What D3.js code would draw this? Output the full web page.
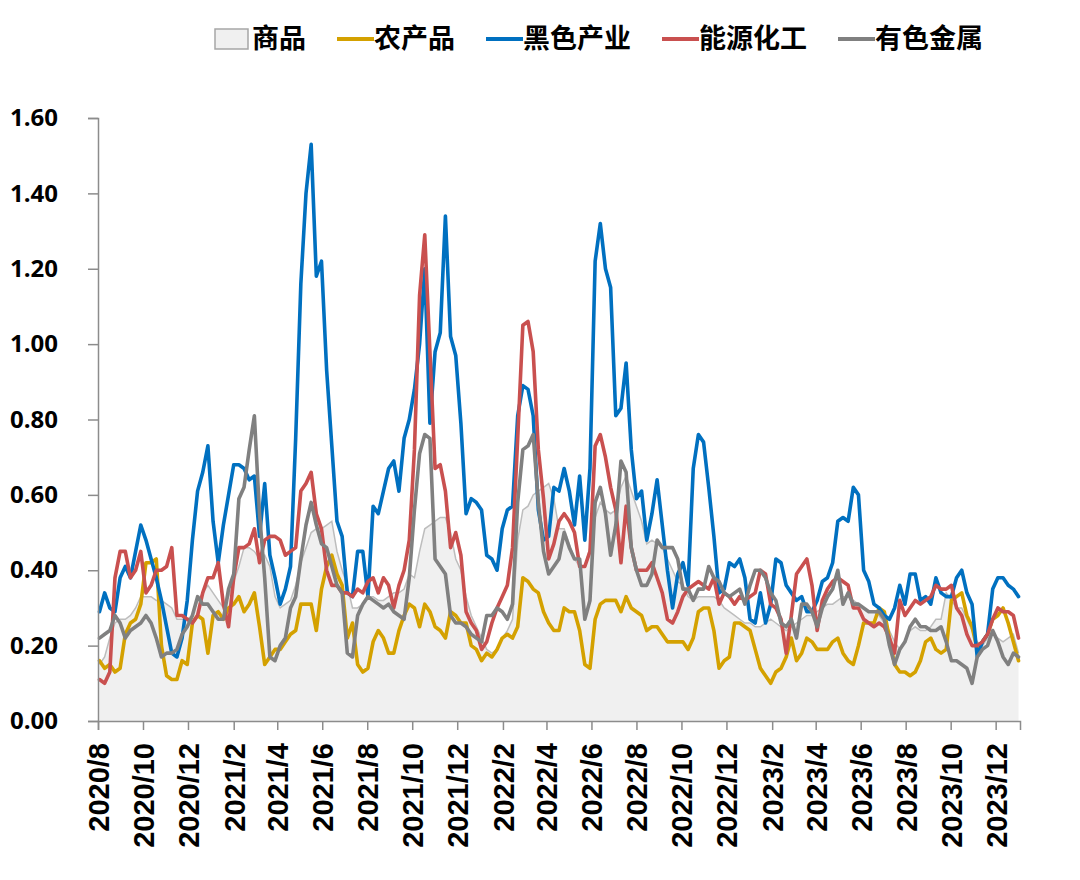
<!DOCTYPE html>
<html>
<head>
<meta charset="utf-8">
<script src="https://cdn.jsdelivr.net/npm/d3@7"></script>
<style>
  html, body { margin: 0; padding: 0; background: #ffffff; }
  svg { display: block; }
</style>
</head>
<body>
<svg id="chart" width="1080" height="880"></svg>
<script>
// ---------------- DATA ----------------
const seriesNames = ["商品", "农产品", "黑色产业", "能源化工", "有色金属"];
const tickLabels = ["2020/8","2020/10","2020/12","2021/2","2021/4","2021/6","2021/8","2021/10","2021/12",
  "2022/2","2022/4","2022/6","2022/8","2022/10","2022/12","2023/2","2023/4","2023/6","2023/8","2023/10","2023/12"];
const yTickValues = [0, 0.2, 0.4, 0.6, 0.8, 1.0, 1.2, 1.4, 1.6];
const firstWeek = "2020-08-03";   // weekly observations start here
const axisStart = "2020-08-01";
const axisEnd = "2024-01-03";

// 商品 (area)
const commodity = [
  0.15,0.17,0.22,0.26,0.27,0.27,0.28,0.30,0.33,0.33,0.33,0.32,0.32,0.31,0.30,0.27,0.27,0.27,0.28,0.32,0.34,0.36,0.34,
  0.32,0.30,0.33,0.37,0.41,0.46,0.46,0.45,0.43,0.44,0.41,0.33,0.30,0.31,0.32,0.36,0.42,0.46,0.50,0.51,0.51,0.52,
  0.53,0.45,0.40,0.36,0.30,0.30,0.31,0.33,0.33,0.32,0.32,0.33,0.34,0.34,0.35,0.39,0.38,0.45,0.51,0.52,0.53,0.54,0.54,
  0.50,0.43,0.40,0.33,0.28,0.25,0.22,0.19,0.18,0.19,0.22,0.24,0.27,0.48,0.56,0.57,0.60,0.61,0.62,0.63,0.59,0.51,
  0.51,0.47,0.43,0.41,0.41,0.46,0.54,0.58,0.56,0.55,0.56,0.62,0.65,0.61,0.57,0.53,0.47,0.48,0.47,0.46,0.43,0.40,
  0.37,0.36,0.33,0.32,0.33,0.33,0.33,0.33,0.32,0.30,0.29,0.28,0.27,0.26,0.26,0.25,0.25,0.26,0.27,0.26,0.25,0.24,
  0.25,0.26,0.27,0.28,0.28,0.29,0.30,0.31,0.31,0.32,0.33,0.33,0.32,0.31,0.30,0.29,0.29,0.28,0.26,0.24,0.21,0.19,0.21,
  0.24,0.25,0.24,0.24,0.25,0.27,0.27,0.34,0.32,0.30,0.30,0.27,0.24,0.21,0.20,0.22,0.23,0.22,0.21,0.22,0.23,0.18
];
// 农产品
const agri = [
  0.16,0.14,0.15,0.13,0.14,0.23,0.26,0.27,0.31,0.42,0.42,0.43,0.20,0.12,0.11,0.11,0.16,0.15,0.26,0.28,0.27,0.18,0.28,
  0.29,0.27,0.30,0.31,0.33,0.29,0.31,0.34,0.25,0.15,0.17,0.19,0.19,0.21,0.23,0.24,0.31,0.31,0.31,0.24,0.35,0.41,
  0.44,0.39,0.36,0.22,0.26,0.15,0.13,0.14,0.21,0.24,0.22,0.18,0.18,0.24,0.28,0.31,0.30,0.25,0.31,0.29,0.25,0.24,0.22,
  0.29,0.28,0.26,0.26,0.20,0.19,0.16,0.18,0.17,0.19,0.22,0.23,0.22,0.25,0.38,0.37,0.35,0.34,0.29,0.26,0.24,0.24,
  0.30,0.29,0.29,0.24,0.15,0.14,0.27,0.31,0.32,0.32,0.32,0.29,0.33,0.30,0.29,0.28,0.24,0.25,0.25,0.23,0.21,0.21,
  0.21,0.21,0.19,0.22,0.29,0.30,0.30,0.24,0.14,0.16,0.17,0.26,0.26,0.25,0.24,0.19,0.14,0.12,0.10,0.13,0.14,0.17,
  0.22,0.16,0.18,0.22,0.21,0.19,0.19,0.19,0.21,0.22,0.18,0.16,0.15,0.20,0.26,0.26,0.26,0.30,0.29,0.22,0.15,0.13,0.13,
  0.12,0.13,0.16,0.21,0.22,0.19,0.18,0.19,0.32,0.33,0.34,0.28,0.25,0.19,0.21,0.23,0.27,0.28,0.30,0.26,0.21,0.16
];
// 黑色产业
const ferrous = [
  0.29,0.34,0.30,0.29,0.38,0.41,0.38,0.45,0.52,0.48,0.43,0.38,0.32,0.25,0.18,0.17,0.22,0.32,0.48,0.61,0.66,0.73,0.53,
  0.42,0.52,0.60,0.68,0.68,0.67,0.64,0.65,0.49,0.63,0.44,0.38,0.31,0.35,0.41,0.75,1.16,1.40,1.53,1.18,1.22,0.93,
  0.73,0.53,0.49,0.34,0.33,0.45,0.45,0.33,0.57,0.55,0.61,0.67,0.69,0.61,0.75,0.80,0.88,1.00,1.20,0.79,0.98,1.03,1.34,
  1.02,0.97,0.79,0.55,0.59,0.58,0.56,0.44,0.43,0.40,0.51,0.56,0.57,0.81,0.89,0.88,0.81,0.56,0.48,0.49,0.62,0.61,
  0.67,0.61,0.52,0.65,0.48,0.67,1.22,1.32,1.20,1.15,0.81,0.83,0.95,0.72,0.59,0.61,0.48,0.55,0.64,0.52,0.40,0.30,
  0.39,0.42,0.36,0.67,0.76,0.74,0.62,0.49,0.34,0.35,0.42,0.41,0.43,0.38,0.27,0.26,0.34,0.26,0.31,0.43,0.42,0.36,
  0.34,0.32,0.33,0.29,0.29,0.32,0.37,0.38,0.42,0.53,0.54,0.53,0.62,0.60,0.40,0.37,0.31,0.30,0.28,0.27,0.30,0.36,0.31,
  0.39,0.39,0.32,0.33,0.31,0.38,0.34,0.33,0.33,0.38,0.40,0.34,0.31,0.17,0.21,0.23,0.35,0.38,0.38,0.36,0.35,0.33
];
// 能源化工
const energy = [
  0.11,0.10,0.13,0.38,0.45,0.45,0.38,0.40,0.45,0.34,0.36,0.40,0.40,0.41,0.46,0.28,0.28,0.27,0.26,0.28,0.34,0.38,0.38,
  0.42,0.31,0.25,0.38,0.46,0.46,0.47,0.51,0.42,0.48,0.49,0.49,0.48,0.44,0.45,0.46,0.61,0.63,0.66,0.55,0.51,0.40,
  0.36,0.36,0.34,0.34,0.33,0.35,0.34,0.37,0.38,0.34,0.38,0.36,0.30,0.36,0.40,0.48,0.72,1.13,1.29,0.98,0.67,0.68,0.61,
  0.46,0.50,0.44,0.29,0.26,0.24,0.19,0.21,0.26,0.30,0.33,0.36,0.46,0.75,1.05,1.06,0.98,0.72,0.59,0.43,0.47,0.53,
  0.55,0.53,0.50,0.41,0.41,0.45,0.73,0.76,0.70,0.62,0.56,0.42,0.57,0.46,0.40,0.40,0.40,0.42,0.38,0.34,0.27,0.26,
  0.29,0.33,0.35,0.36,0.37,0.36,0.35,0.38,0.31,0.34,0.33,0.31,0.33,0.32,0.33,0.34,0.40,0.39,0.31,0.30,0.27,0.18,
  0.28,0.39,0.41,0.43,0.36,0.24,0.32,0.35,0.37,0.38,0.37,0.36,0.30,0.30,0.27,0.26,0.25,0.26,0.25,0.22,0.18,0.32,0.28,
  0.30,0.32,0.31,0.32,0.33,0.36,0.35,0.35,0.36,0.30,0.28,0.23,0.20,0.20,0.21,0.23,0.27,0.30,0.29,0.29,0.28,0.22
];
// 有色金属
const nonferrous = [
  0.22,0.23,0.24,0.28,0.26,0.22,0.24,0.25,0.26,0.28,0.26,0.22,0.17,0.18,0.18,0.19,0.23,0.25,0.28,0.33,0.31,0.31,0.29,
  0.27,0.27,0.35,0.39,0.59,0.62,0.72,0.81,0.55,0.38,0.17,0.16,0.20,0.22,0.30,0.33,0.43,0.52,0.58,0.52,0.47,0.46,
  0.41,0.36,0.34,0.18,0.17,0.28,0.31,0.33,0.32,0.31,0.30,0.31,0.29,0.28,0.27,0.38,0.56,0.71,0.76,0.75,0.43,0.41,0.39,
  0.28,0.26,0.26,0.25,0.23,0.22,0.21,0.28,0.28,0.30,0.29,0.27,0.31,0.58,0.72,0.73,0.76,0.58,0.45,0.39,0.41,0.43,
  0.50,0.46,0.43,0.43,0.27,0.32,0.58,0.62,0.55,0.44,0.52,0.69,0.66,0.46,0.40,0.36,0.36,0.39,0.48,0.46,0.46,0.46,
  0.43,0.35,0.35,0.32,0.35,0.35,0.41,0.38,0.37,0.34,0.33,0.34,0.35,0.31,0.36,0.40,0.40,0.38,0.34,0.32,0.26,0.25,
  0.27,0.22,0.31,0.31,0.29,0.25,0.30,0.33,0.35,0.40,0.31,0.34,0.31,0.31,0.30,0.29,0.29,0.29,0.27,0.20,0.15,0.19,0.21,
  0.25,0.27,0.25,0.25,0.24,0.24,0.25,0.21,0.16,0.16,0.15,0.14,0.10,0.17,0.19,0.20,0.24,0.21,0.17,0.15,0.18,0.17
];

// ---------------- CHART ----------------
const plot = { left: 98, right: 1020, top: 118, bottom: 721 };
const colors = { area: "#F0F0F0", areaLine: "#BDBDBD", agri: "#D4A100", ferrous: "#0070C0", energy: "#C9504F", nonferrous: "#808080" };
const axisColor = "#8C8C8C";

const svg = d3.select("#chart");
const parseDay = d3.timeParse("%Y-%m-%d");
const parseMonth = d3.timeParse("%Y/%m");
const start = parseDay(firstWeek);
const dates = commodity.map((_, i) => d3.timeDay.offset(start, 7 * i));

const x = d3.scaleTime().domain([parseDay(axisStart), parseDay(axisEnd)]).range([plot.left, plot.right]);
const y = d3.scaleLinear().domain([0, 1.6]).range([plot.bottom, plot.top]);

const area = d3.area().x((d, i) => x(dates[i])).y0(y(0)).y1(d => y(d));
const line = d3.line().x((d, i) => x(dates[i])).y(d => y(d));

svg.append("path").datum(commodity).attr("d", area).attr("fill", colors.area).attr("stroke", "none");
svg.append("path").datum(commodity).attr("d", line).attr("fill", "none").attr("stroke", colors.areaLine).attr("stroke-width", 1.5);

const lineSeries = [
  { data: agri, color: colors.agri },
  { data: ferrous, color: colors.ferrous },
  { data: energy, color: colors.energy },
  { data: nonferrous, color: colors.nonferrous }
];
lineSeries.forEach(s => {
  svg.append("path").datum(s.data).attr("d", line)
    .attr("fill", "none").attr("stroke", s.color).attr("stroke-width", 3.6)
    .attr("stroke-linejoin", "round").attr("stroke-linecap", "round");
});

// Y axis
const yAxis = d3.axisLeft(y).tickValues(yTickValues).tickSize(10).tickPadding(30).tickFormat(d3.format(".2f"));
const gy = svg.append("g").attr("transform", `translate(${plot.left},0)`).call(yAxis);
gy.select(".domain").attr("stroke", axisColor).attr("stroke-width", 1.5);
gy.selectAll(".tick line").attr("stroke", axisColor).attr("stroke-width", 1.5);
gy.selectAll(".tick text").attr("fill", "#000").style("font-family", "'Open Sans', sans-serif")
  .style("font-weight", "700").style("font-size", "24px");

// X axis
const tickDates = tickLabels.map(t => parseMonth(t));
const xAxis = d3.axisBottom(x).tickValues(tickDates).tickSize(9).tickFormat((d, i) => tickLabels[i]);
const gx = svg.append("g").attr("transform", `translate(0,${plot.bottom})`).call(xAxis);
gx.select(".domain").attr("stroke", axisColor).attr("stroke-width", 1.5);
gx.selectAll(".tick line").attr("stroke", axisColor).attr("stroke-width", 1.5);
gx.selectAll(".tick text")
  .attr("transform", "rotate(-90)").attr("x", -22).attr("y", 0).attr("dy", "0.36em")
  .style("text-anchor", "end").attr("fill", "#000")
  .style("font-family", "'Liberation Sans', Arial, sans-serif").style("font-weight", "700").style("font-size", "29px");

// Legend
const legendItems = [
  { name: seriesNames[0], type: "box" },
  { name: seriesNames[1], type: "line", color: colors.agri },
  { name: seriesNames[2], type: "line", color: colors.ferrous },
  { name: seriesNames[3], type: "line", color: colors.energy },
  { name: seriesNames[4], type: "line", color: colors.nonferrous }
];
const legend = svg.append("g");
let lx = 215;
const ly = 39;
legendItems.forEach(item => {
  if (item.type === "box") {
    legend.append("rect").attr("x", lx).attr("y", ly - 10).attr("width", 33).attr("height", 20)
      .attr("fill", colors.area).attr("stroke", "#A6A6A6").attr("stroke-width", 1.5);
  } else {
    legend.append("line").attr("x1", lx).attr("x2", lx + 37).attr("y1", ly).attr("y2", ly)
      .attr("stroke", item.color).attr("stroke-width", 4);
  }
  const t = legend.append("text").attr("x", lx + 37).attr("y", ly).attr("dy", "0.35em")
    .text(item.name)
    .style("font-family", "'Noto Sans CJK SC', sans-serif").style("font-weight", "700").style("font-size", "27px")
    .attr("fill", "#000");
  lx = lx + 37 + t.node().getComputedTextLength() + 31;
});
</script>
</body>
</html>
